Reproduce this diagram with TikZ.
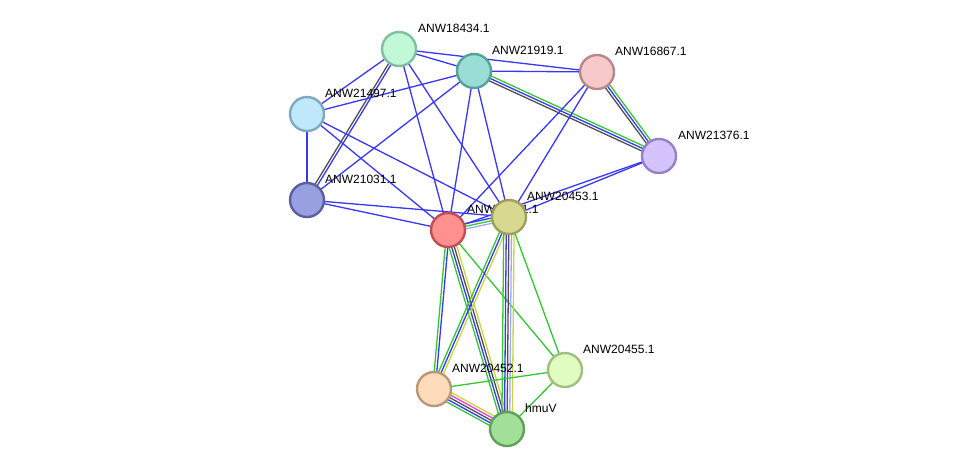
\documentclass[tikz,border=0pt]{standalone}
\usepackage{fontspec}
\setmainfont{Liberation Sans}
\usetikzlibrary{calc}
\pgfdeclarelayer{edges}
\pgfdeclarelayer{labels}
\pgfsetlayers{edges,labels,main}
\definecolor{eb}{RGB}{55,55,245}
\definecolor{eg}{RGB}{50,200,50}
\definecolor{ek}{RGB}{80,80,80}
\definecolor{ey}{RGB}{200,215,60}
\definecolor{em}{RGB}{230,60,230}
\definecolor{el}{RGB}{165,165,250}
\newcommand\pedge[3]{\foreach \c/\o in {#3}{\draw[eline,\c] ($(#1)!\o pt!90:(#2)$) -- ($(#2)!\o pt!-90:(#1)$);}}
\begin{document}
\begin{tikzpicture}[x=1pt,y=-1pt,
  prot/.style={circle, minimum size=34pt, inner sep=0pt, line width=2.4pt},
  lbl/.style={anchor=west, font=\fontsize{12}{14}\selectfont, inner sep=0pt},
  eline/.style={line width=1.3pt}]
\useasboundingbox (0,0) rectangle (976,475);
% proteins
\node[prot, fill={rgb,255:red,192;green,248;blue,216}, draw={rgb,255:red,128;green,192;blue,160}] (n18434) at (399,49) {};
\node[prot, fill={rgb,255:red,153;green,221;blue,213}, draw={rgb,255:red,90;green,159;blue,152}] (n21919) at (474,71) {};
\node[prot, fill={rgb,255:red,247;green,201;blue,201}, draw={rgb,255:red,184;green,136;blue,136}] (n16867) at (597,72) {};
\node[prot, fill={rgb,255:red,192;green,232;blue,251}, draw={rgb,255:red,128;green,168;blue,192}] (n21497) at (307,114) {};
\node[prot, fill={rgb,255:red,212;green,196;blue,251}, draw={rgb,255:red,152;green,128;blue,200}] (n21376) at (659,156) {};
\node[prot, fill={rgb,255:red,152;green,160;blue,224}, draw={rgb,255:red,88;green,96;blue,160}] (n21031) at (307,200) {};
\node[prot, fill={rgb,255:red,255;green,144;blue,144}, draw={rgb,255:red,192;green,80;blue,80}] (n20451) at (448,230) {};
\node[prot, fill={rgb,255:red,216;green,216;blue,144}, draw={rgb,255:red,160;green,160;blue,88}] (n20453) at (509,217) {};
\node[prot, fill={rgb,255:red,253;green,220;blue,188}, draw={rgb,255:red,184;green,152;blue,120}] (n20452) at (434,389) {};
\node[prot, fill={rgb,255:red,224;green,252;blue,192}, draw={rgb,255:red,160;green,192;blue,128}] (n20455) at (565,370) {};
\node[prot, fill={rgb,255:red,160;green,224;blue,152}, draw={rgb,255:red,96;green,160;blue,88}] (hmuV) at (507,429) {};
% labels
\begin{pgfonlayer}{labels}
\node[lbl] (l18434) at (418,28) {ANW18434.1};
\node[lbl] (l21919) at (492,50) {ANW21919.1};
\node[lbl] (l16867) at (615,51) {ANW16867.1};
\node[lbl] (l21497) at (325,93) {ANW21497.1};
\node[lbl] (l21376) at (678,135) {ANW21376.1};
\node[lbl] (l21031) at (325,179) {ANW21031.1};
\node[lbl] (l20451) at (467,209) {ANW20451.1};
\node[lbl] (l20453) at (527,196) {ANW20453.1};
\node[lbl] (l20452) at (452,368) {ANW20452.1};
\node[lbl] (l20455) at (583,349) {ANW20455.1};
\node[lbl] (lhmuV) at (525,408) {hmuV};
\end{pgfonlayer}
% edges
\begin{pgfonlayer}{edges}
\pedge{n18434}{n21919}{eb/0}
\pedge{n18434}{n16867}{eb/0}
\pedge{n18434}{n21497}{eb/0}
\pedge{n18434}{n21031}{ek/-1.3,eb/1.3}
\pedge{n18434}{n20451}{eb/0}
\pedge{n18434}{n20453}{eb/0}
\pedge{n21919}{n21497}{eb/0}
\pedge{n21919}{n21031}{eb/0}
\pedge{n21919}{n16867}{eb/0}
\pedge{n21919}{n21376}{eg/2.6,eb/0,ek/-2.6}
\pedge{n21919}{n20451}{eb/0}
\pedge{n21919}{n20453}{eb/0}
\pedge{n16867}{n21376}{ek/-2.6,eb/0,eg/2.6}
\pedge{n16867}{n20451}{eb/0}
\pedge{n16867}{n20453}{eb/0}
\pedge{n21497}{n21031}{eb/0}
\pedge{n21497}{n20451}{eb/0}
\pedge{n21497}{n20453}{eb/0}
\pedge{n21031}{n20451}{eb/0}
\pedge{n21031}{n20453}{eb/0}
\pedge{n21376}{n20451}{eb/0}
\pedge{n21376}{n20453}{eb/0}
\pedge{n20451}{n20453}{eb/2.6,eg/0,el/-2.6}
\pedge{n20451}{n20452}{eg/-1.3,eb/1.3}
\pedge{n20451}{hmuV}{eg/-3.9,eb/-1.3,ek/1.3,ey/3.9}
\pedge{n20451}{n20455}{eg/0}
\pedge{n20453}{n20452}{eg/-2.6,eb/0,ey/2.6}
\pedge{n20453}{hmuV}{eg/-5.2,eb/-2.6,ek/0,el/2.6,ey/5.2}
\pedge{n20453}{n20455}{eg/0}
\pedge{n20452}{n20455}{eg/0}
\pedge{n20452}{hmuV}{ey/5.2,em/2.6,ek/0,eb/-2.6,eg/-5.2}
\pedge{n20455}{hmuV}{eg/0}
\end{pgfonlayer}
\end{tikzpicture}
\end{document}
